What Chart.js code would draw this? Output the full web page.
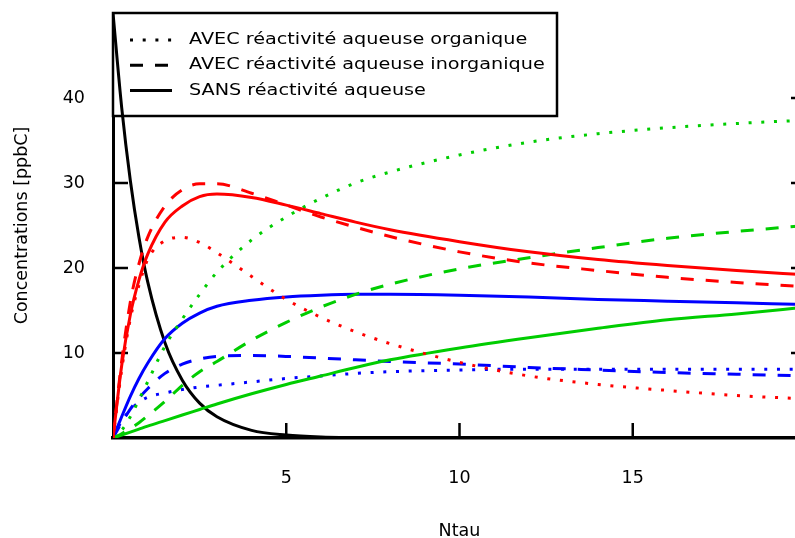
<!DOCTYPE html>
<html>
<head>
<meta charset="utf-8">
<script src="https://cdn.jsdelivr.net/npm/chart.js@4/dist/chart.umd.min.js"></script>
<style>
html,body{margin:0;padding:0;overflow:hidden;background:#fff;}
#wrap{width:830px;height:546px;}
</style>
</head>
<body>
<div id="wrap"><canvas id="c" width="830" height="546"></canvas></div>
<script>
// ---- data ----
const xs = [0, 0.25, 0.5, 0.75, 1, 1.5, 2, 2.5, 3, 4, 5, 6, 7, 8, 10, 12, 14, 16, 18, 20];

const blackPrecursor = [50, 38.9, 30.3, 23.6, 18.4, 11.2, 6.8, 4.1, 2.5, 0.9, 0.35, 0.12, 0.05, 0.02, 0, 0, 0, 0, 0, 0];

const redSans      = [0, 8.5, 14.5, 18.6, 21.6, 25.4, 27.3, 28.4, 28.7, 28.3, 27.4, 26.4, 25.4, 24.5, 23.1, 21.9, 21.0, 20.3, 19.7, 19.2];
const redInorg     = [0, 9.0, 16.0, 20.5, 23.6, 27.3, 29.2, 29.9, 29.9, 28.8, 27.4, 26.0, 24.8, 23.7, 21.9, 20.6, 19.7, 18.9, 18.3, 17.8];
const redOrg       = [0, 8.0, 14.0, 18.0, 21.0, 23.2, 23.6, 23.0, 21.8, 19.0, 16.3, 14.2, 12.5, 11.1, 8.9, 7.3, 6.3, 5.6, 5.0, 4.6];

const greenSans    = [0, 0.35, 0.7, 1.05, 1.4, 2.05, 2.7, 3.35, 4.0, 5.2, 6.3, 7.3, 8.3, 9.2, 10.6, 11.8, 12.9, 13.9, 14.6, 15.4];
const greenInorg   = [0, 0.5, 1.1, 1.8, 2.6, 4.3, 6.2, 7.8, 9.0, 11.5, 13.6, 15.4, 16.9, 18.1, 19.9, 21.2, 22.4, 23.5, 24.3, 25.0];
const greenOrg     = [0, 0.9, 2.5, 4.5, 6.6, 10.8, 14.0, 16.9, 19.5, 23.3, 26.0, 28.2, 30.0, 31.3, 33.3, 34.8, 35.8, 36.5, 37.0, 37.4];

const blueSans     = [0, 2.5, 4.9, 7.0, 8.8, 11.7, 13.5, 14.7, 15.5, 16.2, 16.6, 16.8, 16.9, 16.9, 16.8, 16.6, 16.3, 16.1, 15.9, 15.7];
const blueInorg    = [0, 1.8, 3.4, 4.7, 5.8, 7.6, 8.7, 9.3, 9.6, 9.7, 9.6, 9.4, 9.2, 9.0, 8.7, 8.3, 8.0, 7.7, 7.5, 7.3];
const blueOrg      = [0, 2.0, 3.3, 4.2, 4.8, 5.3, 5.7, 6.0, 6.2, 6.6, 7.0, 7.3, 7.6, 7.8, 8.0, 8.1, 8.1, 8.1, 8.1, 8.1];

const legendLabels = ['AVEC réactivité aqueuse organique', 'AVEC réactivité aqueuse inorganique', 'SANS réactivité aqueuse'];
const xTickValues = [5, 10, 15];
const yTickValues = [10, 20, 30, 40];
const xTitle = 'Ntau';
const yTitle = 'Concentrations [ppbC]';

// ---- styles ----
const RED = '#FF0000', GREEN = '#00CD00', BLUE = '#0000FF', BLACK = '#000000';
const DOT = [3, 9.7];
const DASH = [13, 12];
const FONT = 'DejaVu Sans';

function pts(arr) { return xs.map((x, i) => ({ x: x, y: arr[i] })); }
function ds(arr, color, dash) {
  return { data: pts(arr), borderColor: color, borderDash: dash, borderWidth: 3,
           borderCapStyle: 'butt', pointRadius: 0, fill: false, cubicInterpolationMode: 'monotone' };
}

const datasets = [
  ds(redSans, RED, []), ds(redInorg, RED, DASH), ds(redOrg, RED, DOT),
  ds(greenSans, GREEN, []), ds(greenInorg, GREEN, DASH), ds(greenOrg, GREEN, DOT),
  ds(blueSans, BLUE, []), ds(blueInorg, BLUE, DASH), ds(blueOrg, BLUE, DOT),
  ds(blackPrecursor, BLACK, [])
];

const inwardTicks = {
  id: 'inwardTicks',
  beforeDatasetsDraw(chart) {
    const { ctx, chartArea: a, scales: { x, y } } = chart;
    ctx.save();
    ctx.strokeStyle = '#000';
    ctx.lineWidth = 2.5;
    ctx.beginPath();
    xTickValues.forEach(v => { const p = x.getPixelForValue(v); ctx.moveTo(p, a.bottom); ctx.lineTo(p, a.bottom - 15); });
    yTickValues.forEach(v => {
      const p = y.getPixelForValue(v);
      ctx.moveTo(a.left, p); ctx.lineTo(a.left + 15, p);
      ctx.moveTo(a.right, p); ctx.lineTo(a.right - 15, p);
    });
    ctx.stroke();
    ctx.restore();
  }
};

const boxLegend = {
  id: 'boxLegend',
  beforeDatasetsDraw(chart) {
    const { ctx, chartArea: a } = chart;
    const left = a.left, top = a.top, right = 557, bottom = 116;
    ctx.save();
    ctx.fillStyle = '#fff';
    ctx.fillRect(left, top, right - left, bottom - top);
    ctx.strokeStyle = '#000';
    ctx.lineWidth = 2.5;
    ctx.strokeRect(left, top, right - left, bottom - top);
    const dashes = [DOT, DASH, []];
    legendLabels.forEach((t, i) => {
      const yy = 40 + 25.3 * i;
      ctx.save();
      ctx.lineWidth = 3;
      ctx.setLineDash(dashes[i]);
      ctx.beginPath();
      ctx.moveTo(130, yy); ctx.lineTo(172, yy);
      ctx.stroke();
      ctx.restore();
      ctx.save();
      ctx.fillStyle = '#000';
      ctx.font = '16px "' + FONT + '"';
      ctx.textBaseline = 'middle';
      ctx.textAlign = 'left';
      ctx.translate(189, yy);
      ctx.scale(1.2, 1);
      ctx.fillText(t, 0, 0);
      ctx.restore();
    });
    ctx.restore();
  }
};

Chart.defaults.font.family = FONT;
Chart.defaults.font.size = 17.5;
Chart.defaults.color = '#000';

new Chart(document.getElementById('c').getContext('2d'), {
  type: 'line',
  data: { datasets: datasets },
  options: {
    responsive: false,
    animation: false,
    layout: { padding: { top: 13, right: 24, left: 0, bottom: 0 } },
    plugins: { legend: { display: false }, tooltip: { enabled: false } },
    scales: {
      x: {
        type: 'linear', min: 0, max: 20,
        grid: { display: false, drawTicks: false },
        border: { display: true, color: '#000', width: 3.5 },
        ticks: { stepSize: 5, padding: 30, autoSkip: false, maxRotation: 0,
                 callback: v => xTickValues.includes(v) ? String(v) : '' },
        title: { display: true, text: xTitle, padding: { top: 0, bottom: 4.5 } },
        afterFit: s => { s.height = 108; s.paddingLeft = 0; s.paddingRight = 0; }
      },
      y: {
        type: 'linear', min: 0, max: 50,
        grid: { display: false, drawTicks: false },
        border: { display: true, color: '#000', width: 3 },
        ticks: { stepSize: 10, padding: 28, autoSkip: false,
                 callback: v => yTickValues.includes(v) ? String(v) : '' },
        title: { display: true, text: yTitle, padding: { top: 12, bottom: 0 } },
        afterFit: s => { s.width = 113; s.paddingTop = 0; s.paddingBottom = 0; }
      }
    }
  },
  plugins: [inwardTicks, boxLegend]
});
</script>
</body>
</html>
